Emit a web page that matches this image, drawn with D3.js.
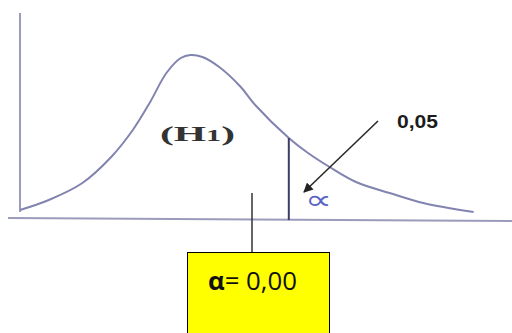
<!doctype html>
<html lang="en">
  <head>
    <meta charset="UTF-8">
    <title>H1 distribution</title>
    <style>
      body { margin: 0; background: #fff; }
      svg { display: block; }
      .axis-line { stroke: #9b9cbc; stroke-width: 2px; }
      .curve { fill: none; stroke: #8284b0; stroke-width: 2px; }
      .crit { stroke: #3c3d66; stroke-width: 2px; }
      .h1 { font: bold 22px "Liberation Serif", "DejaVu Serif", serif; fill: #333; }
      .pval { font: bold 18px "Liberation Sans", Arial, sans-serif; fill: #1c1c1c; }
      .alpha-mark { font: 27px "DejaVu Sans", sans-serif; fill: #5a64c4; }
      .box { fill: #ffff00; stroke: #000; stroke-width: 1px; }
      .box-text { font: 25px "Open Sans", "Liberation Sans", sans-serif; fill: #111; }
    </style>
  </head>
  <body>
    <svg width="512" height="333"></svg>
    <script src="https://d3js.org/d3.v7.min.js"></script>
    <script>

      // density curve (arbitrary units)
      var curveX = [0, 0.6, 1.3, 1.9, 2.35, 2.7, 3.05, 3.35, 3.55, 3.8, 4.15, 4.6, 4.9, 5.6, 6.0, 6.45, 7.0, 7.7, 8.4, 9.45];
      var curveY = [0.045, 0.095, 0.18, 0.31, 0.445, 0.58, 0.73, 0.805, 0.82, 0.81, 0.76, 0.66, 0.57, 0.405, 0.33, 0.26, 0.185, 0.13, 0.08, 0.035];

      var critX = 5.6;          // critical value
      var critY = 0.405;
      var alphaLabel = "0,05";
      var boxLabel = "= 0,00";

      var svg = d3.select("svg");

      var x = d3.scaleLinear().domain([0, 10]).range([20, 500]);
      var y = d3.scaleLinear().domain([0, 1]).range([219, 19]);

      // axes drawn as plain lines, like the sketch
      svg.append("line").attr("class", "axis-line")
              .attr("x1", 8).attr("y1", 218).attr("x2", 512).attr("y2", 221);
      svg.append("line").attr("class", "axis-line")
              .attr("x1", x(0)).attr("y1", 13).attr("x2", x(0)).attr("y2", 212);

      var line = d3.line()
              .x(function (d, i) { return x(curveX[i]); })
              .y(function (d) { return y(d); })
              .curve(d3.curveCatmullRom.alpha(0.5));

      svg.append("path").attr("class", "curve").attr("d", line(curveY));

      svg.append("line").attr("class", "crit")
              .attr("x1", x(critX)).attr("y1", y(critY))
              .attr("x2", x(critX)).attr("y2", y(0) + 1);

      var h = svg.append("text").attr("class", "h1")
              .attr("x", 160).attr("y", 141)
              .attr("textLength", 75).attr("lengthAdjust", "spacingAndGlyphs");
      h.append("tspan").text("(H");
      h.append("tspan").attr("font-size", 16).text("1");
      h.append("tspan").text(")");

      // arrow
      svg.append("defs").append("marker")
              .attr("id", "head").attr("viewBox", "0 0 10 10")
              .attr("refX", 9).attr("refY", 5)
              .attr("markerWidth", 6).attr("markerHeight", 6)
              .attr("orient", "auto")
              .append("path").attr("d", "M0,0 L10,5 L0,10 z").attr("fill", "#222");

      svg.append("line")
              .attr("x1", 378).attr("y1", 121).attr("x2", 304).attr("y2", 192)
              .attr("stroke", "#2a2a2a").attr("stroke-width", 1.6)
              .attr("marker-end", "url(#head)");

      svg.append("text").attr("class", "pval")
              .attr("x", 397).attr("y", 128)
              .attr("textLength", 41).attr("lengthAdjust", "spacingAndGlyphs")
              .text(alphaLabel);

      svg.append("text").attr("class", "alpha-mark")
              .attr("x", 305).attr("y", 209)
              .attr("textLength", 27).attr("lengthAdjust", "spacingAndGlyphs")
              .text("\u221d");

      // callout box
      svg.append("line")
              .attr("x1", 252).attr("y1", 193).attr("x2", 252).attr("y2", 252)
              .attr("stroke", "#333").attr("stroke-width", 1.5);

      svg.append("rect").attr("class", "box")
              .attr("x", 187.5).attr("y", 252.5).attr("width", 142).attr("height", 100);

      var t = svg.append("text").attr("class", "box-text")
              .attr("x", 208).attr("y", 290)
              .attr("textLength", 89).attr("lengthAdjust", "spacingAndGlyphs");
      t.append("tspan").attr("font-weight", "bold").text("\u03b1");
      t.append("tspan").text(boxLabel);

    </script>
  </body>
</html>
